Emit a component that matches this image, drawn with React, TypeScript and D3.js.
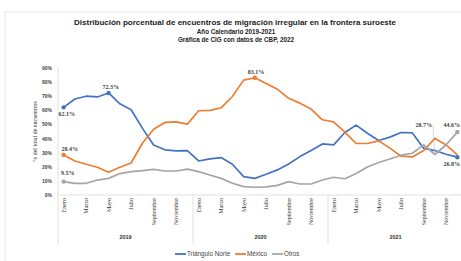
import React from "react";
import * as d3 from "d3";

const years = ["2019", "2020", "2021"];
const monthNames = ["Enero", "Febrero", "Marzo", "Abril", "Mayo", "Junio", "Julio", "Agosto", "Septiembre", "Octubre", "Noviembre", "Diciembre"];
const shownMonths = ["Enero", "Marzo", "Mayo", "Julio", "Septiembre", "Noviembre"];
const yTicks = [0, 10, 20, 30, 40, 50, 60, 70, 80, 90];

const trianguloNorte = [
  62.1, 68, 70, 69.5, 72.3, 64.6, 60.4, 47.4, 35.5, 32, 31.3, 31.5,
  24.1, 25.6, 26.5, 21.8, 13, 11.8, 14.7, 17.8, 22, 27.2, 31.5, 36.2,
  35.5, 44.3, 49.5, 43.8, 38.6, 41, 44.3, 44, 33.2, 31.5, 28.9, 26.8,
];
const mexico = [
  28.4, 24.1, 21.8, 19.7, 16.1, 19.7, 22.7, 36.7, 46.6, 51.4, 51.8, 50.2,
  59.7, 60, 61.8, 69.8, 81.4, 83.1, 79, 75, 68.5, 65.1, 60.9, 53.3,
  51.8, 44.5, 36.5, 36.5, 38.4, 33.2, 27.5, 27, 31.5, 40.1, 35.5, 28.4,
];
const otros = [
  9.5, 8.3, 8.3, 10.6, 11.8, 15.2, 16.6, 17.3, 18.2, 17, 17, 18.3,
  16.6, 14.2, 11.8, 8.3, 5.9, 5.5, 5.8, 6.8, 9.5, 7.8, 7.8, 10.6,
  12.6, 11.5, 15.2, 19.8, 23, 25.5, 28.2, 29.6, 35.5, 28.7, 35.6, 44.6,
];

const seriesNames = ["Triángulo Norte", "México", "Otros"];
const colors = ["#4472C4", "#ED7D31", "#A5A5A5"];

const categories = years.flatMap((y) => monthNames.map((m) => `${m} ${y}`));

export default function App() {
  const W = 461;
  const H = 261;
  const x = d3.scaleBand<string>().domain(categories).range([58, 463]).padding(0);
  const y = d3.scaleLinear().domain([0, 90]).range([195, 68]);
  const cx = (i: number) => (x(categories[i]) as number) + x.bandwidth() / 2;
  const line = d3
    .line<number>()
    .x((_, i) => cx(i))
    .y((d) => y(d));
  const data = [trianguloNorte, mexico, otros];
  const serif = "'Liberation Serif', serif";
  const sans = "'Liberation Sans', Arial, sans-serif";
  const last = categories.length - 1;

  const yearStarts = years.map((_, k) => x(categories[k * 12]) as number);
  const groupW = x.bandwidth() * 12;

  return (
    <svg width={W} height={H} style={{ position: "absolute", left: 0, top: 0 }}>
      <rect x={0} y={0} width={W} height={H} fill="#fff" />
      <rect x={5} y={12} width={480} height={270} fill="#fff" stroke="#e0e0e0" strokeWidth={0.8} />
      <text x={235} y={25} textAnchor="middle" fontFamily={sans} fontWeight="bold" fontSize={8} fill="#222">
        Distribución porcentual de encuentros de migración irregular en la frontera suroeste
      </text>
      <text x={236} y={34} textAnchor="middle" fontFamily={sans} fontWeight="bold" fontSize={6.3} fill="#222">
        Año Calendario 2019-2021
      </text>
      <text x={236} y={42} textAnchor="middle" fontFamily={sans} fontWeight="bold" fontSize={6.3} fill="#222">
        Gráfica de CIG con datos de CBP, 2022
      </text>

      {/* y axis */}
      <line x1={58} x2={58} y1={y(90)} y2={y(0)} stroke="#d9d9d9" strokeWidth={0.8} />
      {yTicks.map((t) => (
        <text key={t} x={52} y={y(t) + 2} textAnchor="end" fontFamily={sans} fontWeight="bold" fontSize={5} fill="#444">
          {t}%
        </text>
      ))}
      <text
        transform={`translate(37,${(y(0) + y(90)) / 2}) rotate(-90)`}
        textAnchor="middle"
        fontFamily={serif}
        fontSize={6}
        fill="#333"
      >
        % del total de encuentros
      </text>

      {/* x axis */}
      <line x1={58} x2={463} y1={y(0)} y2={y(0)} stroke="#d9d9d9" strokeWidth={0.8} />
      {yearStarts.map((xs, k) => (
        <line key={k} x1={xs} x2={xs} y1={y(0)} y2={244} stroke="#d9d9d9" strokeWidth={0.8} />
      ))}
      <line x1={463} x2={463} y1={y(0)} y2={244} stroke="#d9d9d9" strokeWidth={0.8} />
      {categories.map((c, i) => {
        const m = monthNames[i % 12];
        if (!shownMonths.includes(m)) return null;
        return (
          <text
            key={c}
            transform={`translate(${cx(i) + 2},198) rotate(-90)`}
            textAnchor="end"
            fontFamily={serif}
            fontSize={6}
            fill="#333"
          >
            {m}
          </text>
        );
      })}
      {years.map((yr, k) => (
        <text key={yr} x={yearStarts[k] + groupW / 2} y={239} textAnchor="middle" fontFamily={sans} fontWeight="bold" fontSize={5.5} fill="#333">
          {yr}
        </text>
      ))}

      {/* lines */}
      {data.map((s, k) => (
        <path key={k} d={line(s) || ""} fill="none" stroke={colors[k]} strokeWidth={1.7} strokeLinejoin="round" />
      ))}

      {/* markers */}
      {[
        [0, 0],
        [0, 4],
        [0, last],
        [1, 0],
        [1, 17],
        [2, 0],
        [2, last],
      ].map(([k, i], j) => (
        <circle key={j} cx={cx(i)} cy={y(data[k][i])} r={2.2} fill={colors[k]} />
      ))}

      {/* labels */}
      <g fontFamily={serif} fontWeight="bold" fontSize={6} fill="#404040">
        <text x={cx(0) + 3} y={y(trianguloNorte[0]) + 9} textAnchor="middle">62.1%</text>
        <text x={cx(4) + 2} y={y(trianguloNorte[4]) - 4} textAnchor="middle">72.3%</text>
        <text x={cx(0) + 6} y={y(mexico[0]) - 4} textAnchor="middle">28.4%</text>
        <text x={cx(0) + 4} y={y(otros[0]) - 7} textAnchor="middle">9.5%</text>
        <text x={cx(17) + 1} y={y(mexico[17]) - 4} textAnchor="middle">83.1%</text>
        <text x={460} y={y(trianguloNorte[last]) + 9} textAnchor="end">26.8%</text>
        <text x={460} y={y(otros[last]) - 5} textAnchor="end">44.6%</text>
        <text x={cx(33) - 3} y={y(otros[last]) - 5} textAnchor="end">28.7%</text>
      </g>
      <line x1={cx(33) - 2} y1={y(otros[last]) - 7} x2={cx(33)} y2={y(otros[33])} stroke="#bfbfbf" strokeWidth={0.6} />

      {/* legend */}
      {seriesNames.map((n, k) => {
        const lx = [175, 235, 272][k];
        return (
          <g key={n}>
            <line x1={lx} x2={lx + 11} y1={254} y2={254} stroke={colors[k]} strokeWidth={1.8} />
            <text x={lx + 12} y={256} fontFamily={sans} fontSize={6.3} fill="#444">
              {n}
            </text>
          </g>
        );
      })}
    </svg>
  );
}
